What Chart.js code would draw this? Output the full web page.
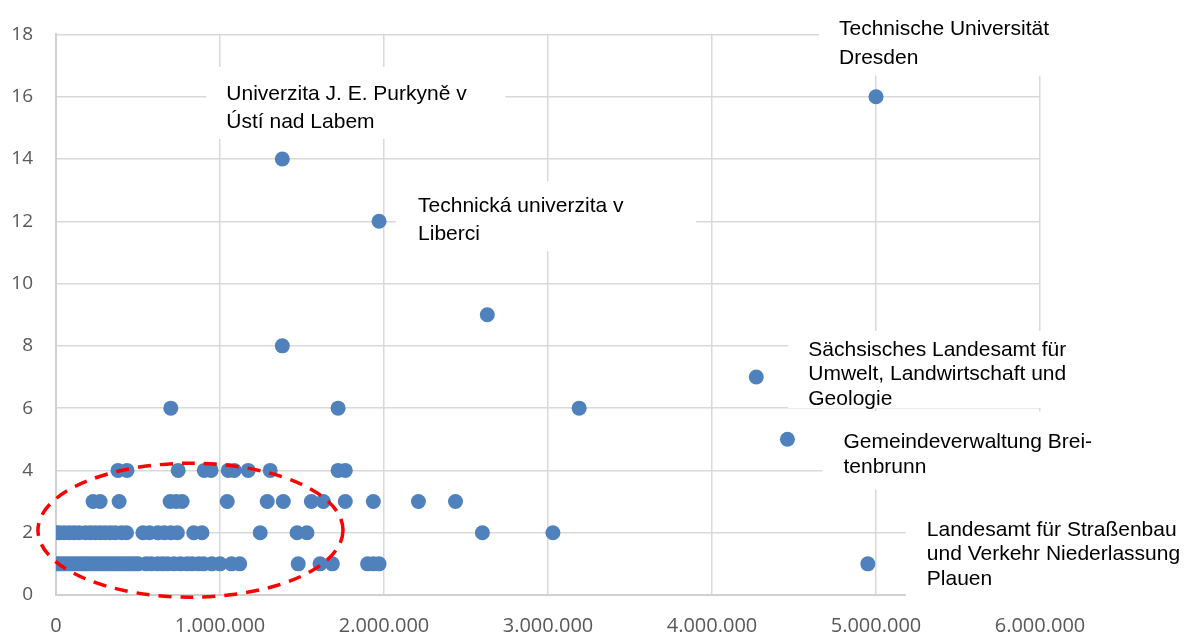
<!DOCTYPE html>
<html>
<head>
<meta charset="utf-8">
<script src="https://cdn.jsdelivr.net/npm/chart.js@4"></script>
<style>
  html, body { margin: 0; background: #fff; }
  #wrap { width: 1187px; height: 635px; }
</style>
</head>
<body>
<div id="wrap"><canvas id="chart"></canvas></div>
<script>
// Budget (EUR) of each partner, grouped by number of projects
const budgets1 = [0, 20000, 40000, 60000, 80000, 100000, 120000, 140000, 160000, 180000, 200000,
  220000, 240000, 260000, 280000, 300000, 320000, 340000, 360000, 380000, 400000, 420000, 440000,
  460000, 480000, 500000, 550000, 580000, 620000, 650000, 680000, 720000, 760000, 800000, 830000,
  870000, 900000, 950000, 1000000, 1070000, 1120000, 1477000, 1610000, 1685000, 1900000, 1935000, 1970000];
const budgets2 = [0, 20000, 50000, 80000, 110000, 140000, 180000, 210000, 240000, 270000, 300000,
  330000, 360000, 400000, 430000, 530000, 570000, 620000, 660000, 700000, 740000, 840000, 890000,
  1245000, 1470000, 1530000, 2600000, 3030000];
const budgets3 = [226000, 269000, 385000, 696000, 733000, 769000, 1044000, 1288000, 1386000,
  1557000, 1630000, 1764000, 1935000, 2210000, 2436000];
const budgets4 = [378000, 433000, 745000, 904000, 946000, 1050000, 1087000, 1172000, 1306000,
  1720000, 1764000];

// single partners with more projects (and the labelled ones)
const otherBudgets = [700000, 1720000, 3190000, 1380000, 2630000, 1970000, 1380000, 5000000, 4270000, 4460000, 4950000];
const otherCounts  = [6, 6, 6, 8, 9, 12, 14, 16, 7, 5, 1];
const otherNames = [
  '', '', '', '', '',
  ['Technická univerzita v', 'Liberci'],
  ['Univerzita J. E. Purkyně v', 'Ústí nad Labem'],
  ['Technische Universität', 'Dresden'],
  ['Sächsisches Landesamt für', 'Umwelt, Landwirtschaft und', 'Geologie'],
  ['Gemeindeverwaltung Brei-', 'tenbrunn'],
  ['Landesamt für Straßenbau', 'und Verkehr Niederlassung', 'Plauen']
];

const xTicks = [0, 1000000, 2000000, 3000000, 4000000, 5000000, 6000000];
const yTicks = [0, 2, 4, 6, 8, 10, 12, 14, 16, 18];

// label boxes relative to their point: text offset, line height, white box
const labelLayout = {
  5:  { dx: 39,  dy: -15, lh: 28,   box: [17, -40, 317, 30] },
  6:  { dx: -56, dy: -65, lh: 28,   box: [-76, -92, 223, -20] },
  7:  { dx: -37, dy: -67, lh: 29,   box: [-57, -95, 184, -21] },
  8:  { dx: 52,  dy: -27, lh: 24.5, box: [32, -46, 319, 31] },
  9:  { dx: 56,  dy: 3,   lh: 25,   box: [35, -28, 324, 50] },
  10: { dx: 59,  dy: -34, lh: 24.5, box: [38, -75, 320, 40] }
};

function dots(v) {
  return String(v).replace(/\B(?=(\d{3})+(?!\d))/g, '.');
}

const points = [];
budgets1.forEach(x => points.push({ x, y: 1 }));
budgets2.forEach(x => points.push({ x, y: 2 }));
budgets3.forEach(x => points.push({ x, y: 3 }));
budgets4.forEach(x => points.push({ x, y: 4 }));
otherBudgets.forEach((x, i) => points.push({ x, y: otherCounts[i] }));

const labelPlugin = {
  id: 'labels',
  beforeDatasetsDraw(chart) {
    const { ctx, scales: { x, y } } = chart;
    ctx.save();
    ctx.font = '21px "Liberation Sans", Arial, sans-serif';
    ctx.textBaseline = 'middle';
    ctx.textAlign = 'left';
    otherNames.forEach((name, i) => {
      if (!name) return;
      const l = labelLayout[i];
      const px = x.getPixelForValue(otherBudgets[i]);
      const py = y.getPixelForValue(otherCounts[i]);
      ctx.fillStyle = '#fff';
      ctx.fillRect(px + l.box[0], py + l.box[1], l.box[2] - l.box[0], l.box[3] - l.box[1]);
      ctx.fillStyle = '#000';
      name.forEach((line, k) => ctx.fillText(line, px + l.dx, py + l.dy + k * l.lh));
    });
    ctx.restore();
  },
  afterDatasetsDraw(chart) {
    // red dashed ring round the cluster of small budgets
    const { ctx, scales: { x, y } } = chart;
    const cx = x.getPixelForValue(820000), cy = y.getPixelForValue(2.08);
    const rx = x.getPixelForValue(930000) - x.getPixelForValue(0);
    const ry = y.getPixelForValue(0) - y.getPixelForValue(2.15);
    ctx.save();
    ctx.strokeStyle = '#ff0000';
    ctx.lineWidth = 3.5;
    ctx.setLineDash([13, 9]);
    ctx.beginPath();
    ctx.ellipse(cx, cy, rx, ry, 0, 0, Math.PI * 2);
    ctx.stroke();
    ctx.restore();
  }
};

new Chart(document.getElementById('chart'), {
  type: 'scatter',
  data: {
    datasets: [{
      data: points,
      backgroundColor: '#4f81bd',
      borderColor: '#4f81bd',
      borderWidth: 0,
      pointRadius: 7.5
    }]
  },
  options: {
    responsive: true,
    maintainAspectRatio: false,
    animation: false,
    events: [],
    layout: { padding: { top: 33, right: 147, left: 0, bottom: 0 } },
    plugins: { legend: { display: false }, tooltip: { enabled: false } },
    scales: {
      x: {
        type: 'linear',
        min: 0, max: 6000000,
        afterBuildTicks(s) { s.ticks = xTicks.map(v => ({ value: v })); },
        afterFit(s) { s.height = 40; },
        grid: { color: '#d9d9d9', lineWidth: 1.5, drawTicks: false },
        border: { color: '#d0d0d0', width: 2 },
        ticks: {
          padding: 19,
          color: '#595959',
          font: { family: '"Open Sans", sans-serif', size: 20 },
          callback: v => dots(v)
        }
      },
      y: {
        min: 0, max: 18,
        afterBuildTicks(s) { s.ticks = yTicks.map(v => ({ value: v })); },
        afterFit(s) { s.width = 56; },
        grid: { color: '#d9d9d9', lineWidth: 1.5, drawTicks: false },
        border: { color: '#d0d0d0', width: 2 },
        ticks: {
          padding: 23,
          color: '#595959',
          font: { family: '"Open Sans", sans-serif', size: 19 }
        }
      }
    }
  },
  plugins: [labelPlugin]
});
</script>
</body>
</html>
